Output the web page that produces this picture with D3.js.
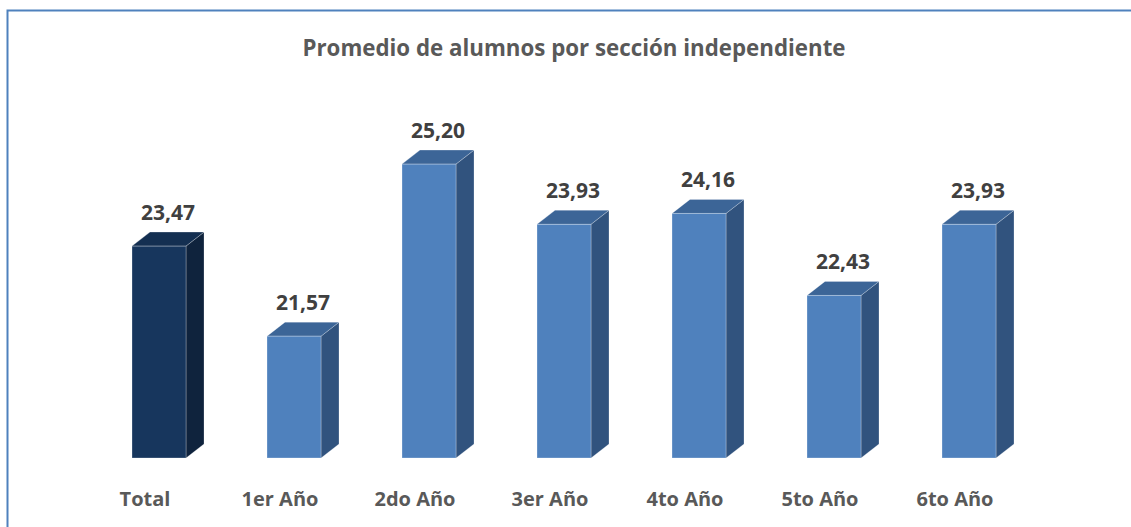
<!DOCTYPE html>
<html>
<head>
<meta charset="utf-8">
<script src="https://cdn.jsdelivr.net/npm/d3@7"></script>
<style>
  body { margin: 0; background: #fff; }
  text { font-family: "Open Sans", "Liberation Sans", sans-serif; font-weight: bold; }
</style>
</head>
<body>
<div id="chart"></div>
<script>
// data
var categories = ['Total', '1er Año', '2do Año', '3er Año', '4to Año', '5to Año', '6to Año'];
var values = [23.47, 21.57, 25.20, 23.93, 24.16, 22.43, 23.93];
var valueLabels = ['23,47', '21,57', '25,20', '23,93', '24,16', '22,43', '23,93'];
var title = 'Promedio de alumnos por sección independiente';

var W = 1131, H = 527;
var depthX = 18, depthY = 14;

var svg = d3.select('#chart')
    .append('svg')
    .attr('width', W)
    .attr('height', H);

// outer frame (only top and left visible in the crop)
svg.append('path')
    .attr('d', 'M7.5,' + (H + 5) + ' L7.5,10.5 L' + (W + 5) + ',10.5')
    .attr('fill', 'none')
    .attr('stroke', '#4f81bd')
    .attr('stroke-width', 2);

svg.append('text')
    .attr('x', 574)
    .attr('y', 56)
    .attr('text-anchor', 'middle')
    .attr('fill', '#595959')
    .style('font-size', '22.3px')
    .text(title);

var x = d3.scaleBand()
    .domain(categories)
    .range([51, 1077])
    .padding(0.6);

var y = d3.scaleLinear()
    .domain([19, 26])
    .range([458, 458 - 7 * 47.4]);

var data = categories.map(function(c, i) {
    return {cat: c, value: values[i], label: valueLabels[i], total: i === 0};
});

function colors(d) {
    if (d.total) return {front: '#17365d', side: '#0f233d', top: '#142f51'};
    return {front: '#4f81bd', side: '#31537e', top: '#3c6597'};
}

var bars = svg.selectAll('.bar')
    .data(data)
    .enter()
    .append('g')
    .attr('class', 'bar');

// side face
bars.append('path')
    .attr('d', function(d) {
        var x1 = x(d.cat) + x.bandwidth(), yt = y(d.value), yb = y(19);
        return 'M' + x1 + ',' + yt + ' L' + (x1 + depthX) + ',' + (yt - depthY) +
            ' L' + (x1 + depthX) + ',' + (yb - depthY) + ' L' + x1 + ',' + yb + 'Z';
    })
    .attr('fill', function(d) { return colors(d).side; })
    .attr('stroke', 'rgba(255,255,255,0.3)')
    .attr('stroke-width', 0.8);

// top face
bars.append('path')
    .attr('d', function(d) {
        var x0 = x(d.cat), x1 = x0 + x.bandwidth(), yt = y(d.value);
        return 'M' + x0 + ',' + yt + ' L' + (x0 + depthX) + ',' + (yt - depthY) +
            ' L' + (x1 + depthX) + ',' + (yt - depthY) + ' L' + x1 + ',' + yt + 'Z';
    })
    .attr('fill', function(d) { return colors(d).top; })
    .attr('stroke', 'rgba(255,255,255,0.3)')
    .attr('stroke-width', 0.8);

// front face
bars.append('rect')
    .attr('x', function(d) { return x(d.cat); })
    .attr('y', function(d) { return y(d.value); })
    .attr('width', x.bandwidth())
    .attr('height', function(d) { return y(19) - y(d.value); })
    .attr('fill', function(d) { return colors(d).front; })
    .attr('stroke', 'rgba(255,255,255,0.35)')
    .attr('stroke-width', 0.8);

// value labels
bars.append('text')
    .attr('x', function(d) { return x(d.cat) + (x.bandwidth() + depthX) / 2; })
    .attr('y', function(d) { return y(d.value) - depthY - 12; })
    .attr('text-anchor', 'middle')
    .attr('fill', '#404040')
    .style('font-size', '21px')
    .text(function(d) { return d.label; });

// category labels
svg.selectAll('.cat')
    .data(categories)
    .enter()
    .append('text')
    .attr('class', 'cat')
    .attr('x', function(d) { return x(d) + x.bandwidth() / 2 - 14; })
    .attr('y', 506)
    .attr('text-anchor', 'middle')
    .attr('fill', '#595959')
    .style('font-size', '20px')
    .text(function(d) { return d; });
</script>
</body>
</html>
